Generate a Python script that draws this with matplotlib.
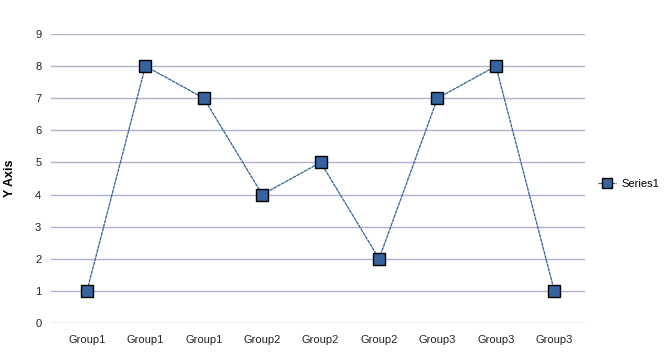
import matplotlib.pyplot as plt

categories = ["Group1", "Group1", "Group1", "Group2", "Group2", "Group2", "Group3", "Group3", "Group3"]
series1 = [1, 8, 7, 4, 5, 2, 7, 8, 1]
y_ticks = list(range(0, 10))

plt.rcParams['font.family'] = ['Liberation Sans', 'DejaVu Sans']

fig = plt.figure(figsize=(6.71, 3.60), dpi=100)
ax = fig.add_axes([0.076, 0.1028, 0.796, 0.8028])

x = list(range(len(categories)))
ax.plot(x, series1, color="#2f5f9e", linewidth=0.9, linestyle=(0, (3, 0.5)),
        marker="s", markersize=9, markerfacecolor="#36649f",
        markeredgecolor="black", markeredgewidth=1.0, label="Series1", zorder=3)

ax.set_xlim(-0.616, 8.527)
ax.set_ylim(0, 9)
ax.set_yticks(y_ticks)
ax.set_xticks(x)
ax.set_xticklabels(categories)
ax.grid(axis="y", color="#b0b0cc", linewidth=1.0)
ax.set_axisbelow(True)
for s in ax.spines.values():
    s.set_visible(False)
ax.tick_params(length=0, labelsize=8, colors="#222222")
ax.tick_params(axis="x", pad=9)
ax.tick_params(axis="y", pad=7)
ax.set_ylabel("Y Axis", fontsize=9, fontweight="bold", labelpad=14)

ax.legend(loc="center left", bbox_to_anchor=(1.005, 0.48), frameon=False,
          fontsize=8, markerscale=0.8, handlelength=1.6, handletextpad=0.5)

fig.savefig("out.png", dpi=100)
